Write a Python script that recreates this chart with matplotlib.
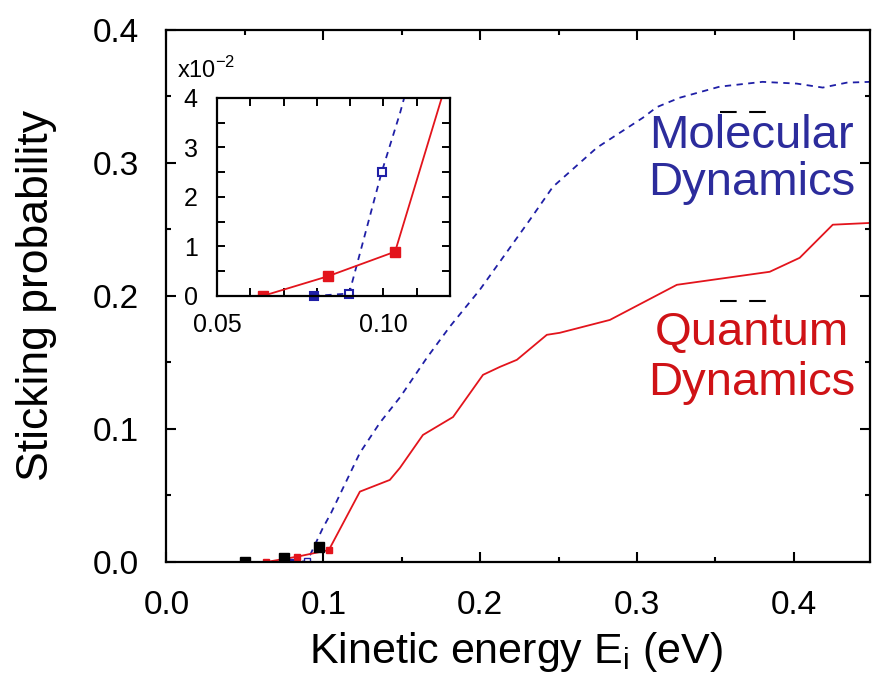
import numpy as np
import matplotlib
matplotlib.use("Agg")
import matplotlib.pyplot as plt
from matplotlib.ticker import MultipleLocator, FixedLocator, FixedFormatter

plt.rcParams['font.family'] = ['Liberation Sans', 'DejaVu Sans']
plt.rcParams['mathtext.fontset'] = 'custom'
plt.rcParams['mathtext.rm'] = 'Liberation Sans'

# Molecular dynamics (blue, dashed)
md_energy = [0.079, 0.0897, 0.0995, 0.105, 0.1233, 0.136, 0.149, 0.166, 0.1807,
             0.1998, 0.2317, 0.2463, 0.2744, 0.3037, 0.3126, 0.327, 0.3527,
             0.380, 0.4018, 0.4184, 0.4337, 0.4484]
md_prob = [0.0, 0.0005, 0.0251, 0.037, 0.082, 0.1046, 0.124, 0.1535, 0.177,
           0.2047, 0.2573, 0.282, 0.3115, 0.334, 0.342, 0.349, 0.3574,
           0.361, 0.3597, 0.3567, 0.3604, 0.361]

# Quantum dynamics (red, solid)
qd_energy = [0.0637, 0.0834, 0.1035, 0.1233, 0.1424, 0.1488, 0.1635, 0.1827,
             0.2018, 0.2126, 0.2234, 0.2425, 0.2507, 0.2827, 0.3254, 0.3846,
             0.4037, 0.4248, 0.45]
qd_prob = [0.0, 0.0040, 0.00895, 0.0529, 0.0617, 0.0707, 0.0955, 0.109,
           0.1407, 0.1467, 0.152, 0.1708, 0.1723, 0.182, 0.2084, 0.2182,
           0.2287, 0.2536, 0.255]

# experimental points (black squares)
exp_energy = [0.05, 0.075, 0.097]
exp_prob = [0.0, 0.003, 0.011]

n_marked = 3  # first points carry markers
md_open = [False, True, True]

x_ticks = [0.0, 0.1, 0.2, 0.3, 0.4]
y_ticks = [0.0, 0.1, 0.2, 0.3, 0.4]
inset_x_ticks = [0.05, 0.10]
inset_y_ticks = [0, 1, 2, 3, 4]

blue = '#1f1fa6'
red = '#e3141c'
blue_txt = '#2c2c9c'
red_txt = '#cf1216'

fig = plt.figure(figsize=(8.73, 6.77), dpi=100)
ax = fig.add_axes([0.1907, 0.1699, 0.8058, 0.7858])

ax.plot(md_energy, md_prob, color=blue, lw=1.3, ls=(0, (3.5, 3)))
ax.plot(qd_energy, qd_prob, color=red, lw=1.3)
ax.plot(qd_energy[:n_marked], qd_prob[:n_marked], 's', color=red, ms=5)
for x, y, op in zip(md_energy[:n_marked - 1], md_prob[:n_marked - 1], md_open):
    ax.plot(x, y, 's', color=blue, ms=5, mfc='white' if op else blue)
ax.plot(exp_energy, exp_prob, 's', color='black', ms=7)

ax.set_xlim(0, 0.4485)
ax.set_ylim(0, 0.4)
ax.set_xticks(x_ticks)
ax.set_yticks(y_ticks)
ax.set_xticklabels([f'{v:.1f}' for v in x_ticks])
ax.set_yticklabels([f'{v:.1f}' for v in y_ticks])
ax.xaxis.set_minor_locator(MultipleLocator(0.05))
ax.yaxis.set_minor_locator(MultipleLocator(0.05))
ax.tick_params(which='both', direction='in', top=True, right=True, width=1.5)
ax.tick_params(which='major', length=7, labelsize=24, pad=20)
ax.tick_params(which='minor', length=3.5)
for sp in ax.spines.values():
    sp.set_linewidth(1.6)

ax.set_xlabel(r'Kinetic energy E$_\mathregular{i}$ (eV)', fontsize=31)
ax.xaxis.set_label_coords(0.497, -0.128)
ax.set_ylabel('Sticking probability', fontsize=32)
ax.yaxis.set_label_coords(-0.156, 0.5)

# curve labels
ax.text(0.832, 0.778, 'Molecular', color=blue_txt, fontsize=34,
        ha='center', va='baseline', transform=ax.transAxes)
ax.text(0.832, 0.690, 'Dynamics', color=blue_txt, fontsize=34,
        ha='center', va='baseline', transform=ax.transAxes)
ax.text(0.832, 0.408, 'Quantum', color=red_txt, fontsize=34,
        ha='center', va='baseline', transform=ax.transAxes)
ax.text(0.832, 0.314, 'Dynamics', color=red_txt, fontsize=34,
        ha='center', va='baseline', transform=ax.transAxes)
for ypos in (0.846, 0.4906):
    ax.plot([0.787, 0.854], [ypos, ypos], color='black', lw=1.5,
            ls=(0, (8, 6)), transform=ax.transAxes)

# inset
ins = fig.add_axes([0.2486, 0.5628, 0.2669, 0.2925])
scale = 100
ins.plot(md_energy, np.array(md_prob) * scale, color=blue, lw=1.3, ls=(0, (3.5, 3)))
ins.plot(qd_energy, np.array(qd_prob) * scale, color=red, lw=1.3)
ins.plot(qd_energy[:n_marked], np.array(qd_prob[:n_marked]) * scale, 's',
         color=red, ms=7)
for x, y, op in zip(md_energy[:n_marked], md_prob[:n_marked], md_open):
    ins.plot(x, y * scale, 's', color=blue, ms=6, mfc='white' if op else blue,
             mew=1.5, clip_on=False)
ins.set_xlim(0.05, 0.12)
ins.set_ylim(0, 4)
ins.xaxis.set_major_locator(FixedLocator(inset_x_ticks))
ins.xaxis.set_major_formatter(FixedFormatter([f'{v:.2f}' for v in inset_x_ticks]))
ins.xaxis.set_minor_locator(MultipleLocator(0.01))
ins.set_yticks(inset_y_ticks)
ins.set_yticklabels([str(v) for v in inset_y_ticks])
ins.yaxis.set_minor_locator(MultipleLocator(0.5))
ins.tick_params(which='both', direction='in', top=True, right=True,
                length=6, width=1.4)
ins.tick_params(axis='y', labelsize=18, pad=14)
ins.tick_params(axis='x', labelsize=18, pad=12)
for sp in ins.spines.values():
    sp.set_linewidth(1.6)
fig.text(177 / 873, 1 - 70 / 677, r'x10$^{-2}$', fontsize=17, va='center')

fig.savefig('out.png', dpi=100)
